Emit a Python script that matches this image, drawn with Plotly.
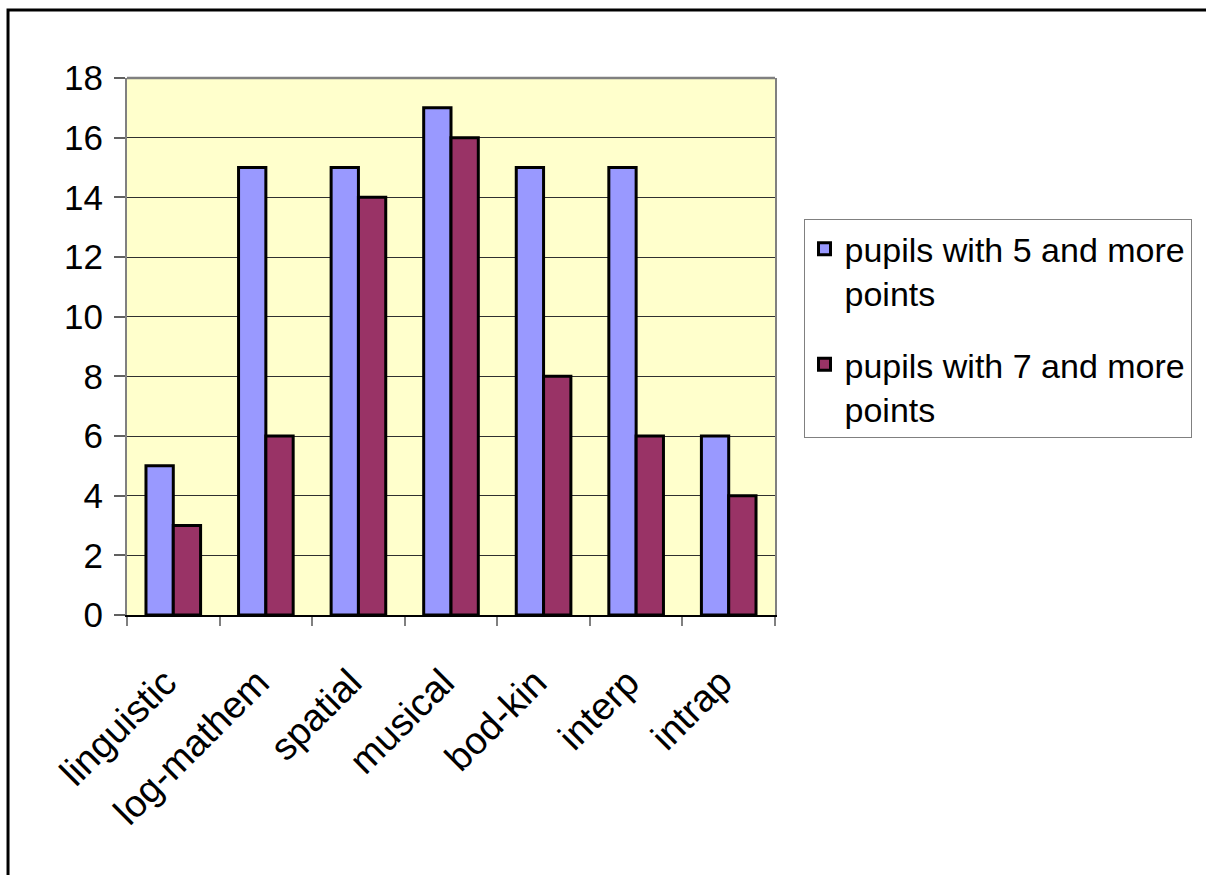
import plotly.graph_objects as go

# Multiple-intelligence test results per category
categories = ["linguistic", "log-mathem", "spatial", "musical", "bod-kin", "interp", "intrap"]
five_plus = [5, 15, 15, 17, 15, 15, 6]
seven_plus = [3, 6, 14, 16, 8, 6, 4]
series_names = ["pupils with 5 and more<br>points", "pupils with 7 and more<br>points"]
y_ticks = [0, 2, 4, 6, 8, 10, 12, 14, 16, 18]

FONT = "Liberation Sans, Arial, sans-serif"

fig = go.Figure()
fig.add_trace(go.Bar(
    x=categories, y=five_plus, name=series_names[0], legendgroup="a",
    marker=dict(color="#9999FF", line=dict(color="black", width=3)),
))
fig.add_trace(go.Bar(
    x=categories, y=seven_plus, name=series_names[1], legendgroup="b",
    marker=dict(color="#993366", line=dict(color="black", width=3)),
))

# Outer chart border (runs off the right and bottom edges of the page)
fig.add_shape(type="rect", xref="paper", yref="paper",
              x0=-0.1836, x1=1.70, y0=-0.52, y1=1.1266,
              line=dict(color="black", width=3), layer="below")
# Gray frame across the top of the plot area
fig.add_shape(type="line", xref="paper", yref="paper",
              x0=0, x1=1, y0=1, y1=1,
              line=dict(color="#808080", width=2.5), layer="above")

fig.update_layout(
    width=1206, height=875,
    margin=dict(l=127, r=431, t=78, b=260),
    paper_bgcolor="white",
    plot_bgcolor="#FFFFCC",
    barmode="group",
    bargap=0.41,
    bargroupgap=0,
    font=dict(family=FONT, size=32, color="black"),
    showlegend=True,
    legend=dict(
        x=1.044, y=0.737, xanchor="left", yanchor="top",
        bgcolor="white", bordercolor="#808080", borderwidth=1,
        font=dict(family=FONT, size=34, color="black"),
        valign="top", tracegroupgap=24,
        itemwidth=30,
    ),
    xaxis=dict(
        tickangle=-45,
        tickson="boundaries",
        ticks="outside", ticklen=9, tickcolor="#808080", tickwidth=1.5,
        ticklabelstandoff=28, ticklabelshift=-8,
        showline=True, linecolor="black", linewidth=2,
        showgrid=False,
        tickfont=dict(family=FONT, size=38, color="black"),
    ),
    yaxis=dict(
        range=[0, 18],
        tickvals=y_ticks,
        ticks="outside", ticklen=11, tickcolor="#606060", tickwidth=1.5,
        ticklabelstandoff=4,
        showline=True, linecolor="#808080", linewidth=2, mirror=True,
        showgrid=True, gridcolor="#303030", gridwidth=1.2,
        zeroline=False,
        tickfont=dict(family=FONT, size=35, color="black"),
    ),
)

fig.write_html("out.html")
